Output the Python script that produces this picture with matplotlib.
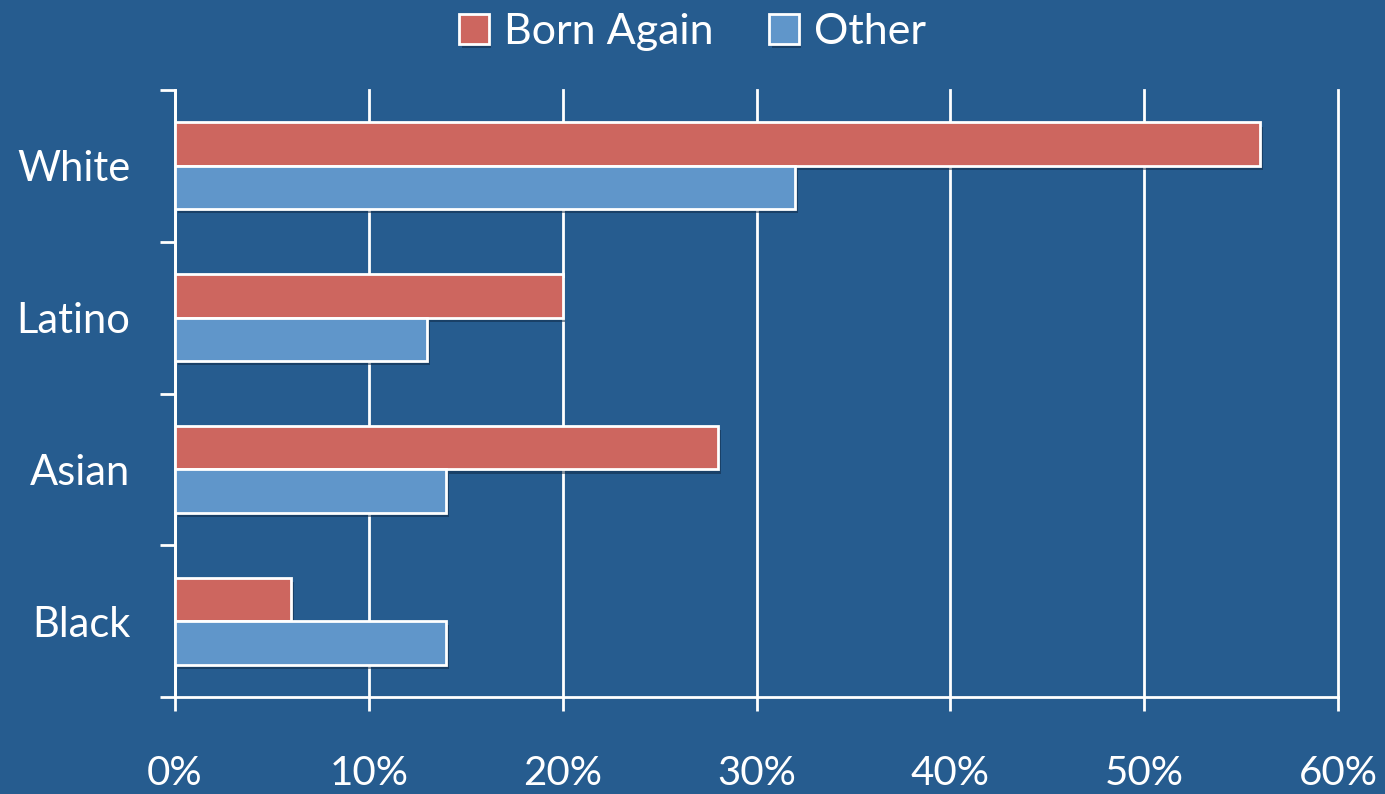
import matplotlib
matplotlib.use("Agg")
import matplotlib.pyplot as plt
import matplotlib.patheffects as pe
import numpy as np
from matplotlib.ticker import FixedLocator, PercentFormatter

categories = ["White", "Latino", "Asian", "Black"]
born_again = [56, 20, 28, 6]
other = [32, 13, 14, 14]
xticks = [0, 10, 20, 30, 40, 50, 60]
series_names = ["Born Again", "Other"]

BG = "#265C8F"
RED = "#CD665F"
BLUE = "#6096CA"
FONT = ["Lato", "DejaVu Sans"]

plt.rcParams["font.family"] = FONT
fig = plt.figure(figsize=(13.85, 7.94), dpi=100, facecolor=BG)
ax = fig.add_axes([175/1385, 1-697/794, (1338-175)/1385, (697-90)/794])
ax.set_facecolor(BG)

y = np.arange(len(categories))
h = 0.286
shadow = [pe.SimplePatchShadow(offset=(2, -3), shadow_rgbFace="#0d2540", alpha=0.5), pe.Normal()]
b1 = ax.barh(y - h/2, born_again, height=h, color=RED, edgecolor="white", linewidth=2,
             label=series_names[0], zorder=3)
b2 = ax.barh(y + h/2, other, height=h, color=BLUE, edgecolor="white", linewidth=2,
             label=series_names[1], zorder=3)
for b in list(b1) + list(b2):
    b.set_path_effects(shadow)

ax.set_xlim(0, 60)
ax.set_ylim(len(categories) - 0.5, -0.5)

ax.xaxis.set_major_locator(FixedLocator(xticks))
ax.xaxis.set_major_formatter(PercentFormatter(decimals=0))
ax.grid(axis="x", color="white", linewidth=2, zorder=1)
for gl in ax.get_xgridlines():
    gl.set_clip_on(False)
ax.set_axisbelow(True)

ax.set_yticks(y)
ax.set_yticklabels(categories)
for t in ax.get_yticklabels():
    t.set_y(t.get_position()[1])
ax.set_yticks(np.arange(len(categories) + 1) - 0.5, minor=True)
ax.tick_params(axis="y", which="major", length=0, pad=32, labelsize=30, labelcolor="white")
ax.tick_params(axis="y", which="minor", length=11, width=2, color="white", direction="out")
ax.tick_params(axis="x", which="major", length=10, width=2, color="white", direction="out",
               pad=32, labelsize=29, labelcolor="white")

for s in ["top", "right"]:
    ax.spines[s].set_visible(False)
for s in ["left", "bottom"]:
    ax.spines[s].set_color("white")
    ax.spines[s].set_linewidth(2)

leg = fig.legend(handles=[b1, b2], labels=series_names, loc="center", bbox_to_anchor=(0.5, 1-32/794),
                 ncol=2, frameon=False, fontsize=31, labelcolor="white",
                 handlelength=0.68, handleheight=0.68, handletextpad=0.35, columnspacing=1.3)

fig.savefig("out.png", dpi=100, facecolor=BG)
